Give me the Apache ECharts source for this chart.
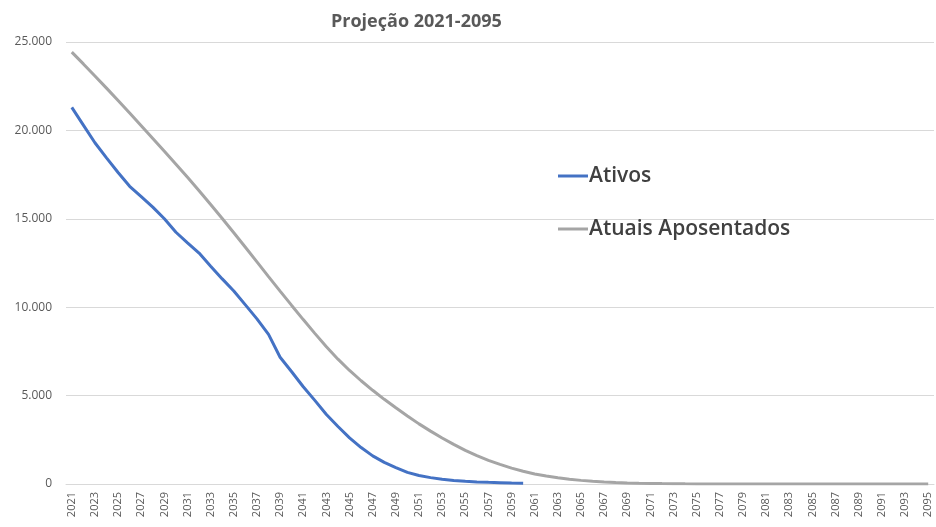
<!DOCTYPE html>
<html>
<head>
<meta charset="utf-8">
<script src="https://cdn.jsdelivr.net/npm/echarts@6/dist/echarts.min.js"></script>
<style>
  html, body { margin: 0; padding: 0; background: #fff; }
  #chart { width: 936px; height: 527px; }
</style>
</head>
<body>
<div id="chart"></div>
<script>
const years = [];
for (let y = 2021; y <= 2095; y++) years.push(String(y));

const ativos = [
  21300, 20300, 19300, 18450, 17620, 16840, 16250, 15660, 15000, 14240,
  13640, 13060, 12320, 11600, 10920, 10130, 9340, 8460, 7170, 6350,
  5500, 4730, 3930, 3250, 2610, 2060, 1590, 1220, 930, 660,
  480, 360, 270, 200, 150, 115, 92, 75, 57, 40
];

const aposentados = [
  24430, 23760, 23080, 22390, 21690, 20980, 20260, 19540, 18820, 18090,
  17350, 16590, 15810, 15020, 14210, 13390, 12560, 11730, 10910, 10100,
  9300, 8520, 7760, 7060, 6420, 5840, 5300, 4790, 4310, 3850,
  3400, 2990, 2600, 2240, 1900, 1600, 1340, 1110, 900, 720,
  570, 450, 350, 270, 205, 155, 115, 85, 62, 45,
  32, 22, 15, 10, 7, 5, 3, 2, 1, 1,
  0, 0, 0, 0, 0, 0, 0, 0, 0, 0,
  0, 0, 0, 0, 0
];

const chart = echarts.init(document.getElementById('chart'));

const option = {
  animation: false,
  title: {
    text: 'Projeção 2021-2095',
    left: 326,
    top: 8,
    textStyle: {
      fontFamily: 'Open Sans',
      fontSize: 18,
      fontWeight: 'bold',
      color: '#595959'
    }
  },
  legend: {
    orient: 'vertical',
    left: 553,
    top: 160,
    itemGap: 31,
    itemWidth: 30,
    itemHeight: 3,
    icon: 'rect',
    textStyle: {
      fontFamily: 'Open Sans',
      fontSize: 21,
      lineHeight: 22,
      fontWeight: 600,
      color: '#404040',
      padding: [0, 0, 0, -4]
    },
    data: ['Ativos', 'Atuais Aposentados']
  },
  grid: {
    left: 66,
    right: 2,
    top: 42,
    bottom: 43
  },
  xAxis: {
    type: 'category',
    data: years,
    boundaryGap: true,
    axisLine: { lineStyle: { color: '#d9d9d9' } },
    axisTick: { show: false },
    axisLabel: {
      interval: 1,
      rotate: 90,
      fontFamily: 'Open Sans',
      fontSize: 11,
      color: '#595959',
      margin: 8
    }
  },
  yAxis: {
    type: 'value',
    min: 0,
    max: 25000,
    interval: 5000,
    axisLine: { show: false },
    axisTick: { show: false },
    splitLine: { lineStyle: { color: '#d9d9d9' } },
    axisLabel: {
      fontFamily: 'Open Sans',
      fontSize: 12,
      color: '#595959',
      margin: 14,
      formatter: v => v === 0 ? '0' : v.toLocaleString('de-DE')
    }
  },
  series: [
    {
      name: 'Ativos',
      type: 'line',
      data: ativos,
      symbol: 'none',
      lineStyle: { color: '#4472C4', width: 3 },
      itemStyle: { color: '#4472C4' }
    },
    {
      name: 'Atuais Aposentados',
      type: 'line',
      data: aposentados,
      symbol: 'none',
      lineStyle: { color: '#A5A5A5', width: 3 },
      itemStyle: { color: '#A5A5A5' }
    }
  ]
};

chart.setOption(option);
</script>
</body>
</html>
